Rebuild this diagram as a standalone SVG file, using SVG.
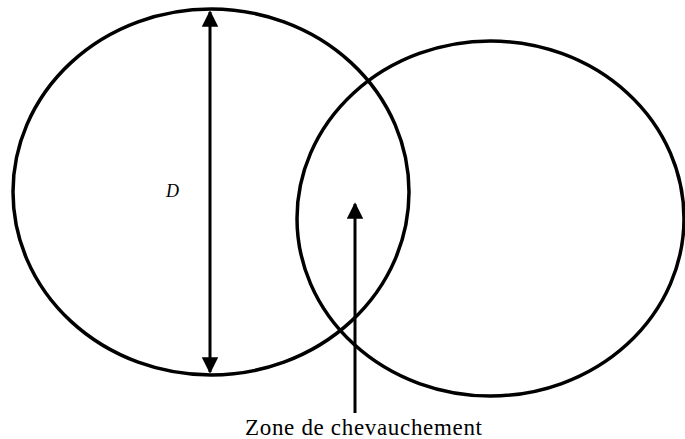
<svg xmlns="http://www.w3.org/2000/svg" width="685" height="439" viewBox="0 0 685 439">
<defs>
<style>
.c{fill:none;stroke:#000;stroke-width:3.5}
.l{stroke:#000;stroke-width:3;fill:none}
</style>
<marker id="ah" viewBox="0 0 10 10" refX="9" refY="5" markerWidth="6" markerHeight="5.5" markerUnits="strokeWidth" orient="auto-start-reverse">
<path d="M0,0 L10,5 L0,10 z" fill="#000"/>
</marker>
</defs>
<rect width="685" height="439" fill="#fff"/>
<g id="circle-left"><ellipse class="c" cx="211" cy="192" rx="198" ry="183"/></g>
<g id="circle-right"><ellipse class="c" cx="490.5" cy="218.5" rx="193.5" ry="177.5"/></g>
<g id="connectors">
<line class="l" x1="210" y1="12" x2="210" y2="372" marker-start="url(#ah)" marker-end="url(#ah)"/>
<line class="l" x1="355" y1="413" x2="355" y2="204" marker-end="url(#ah)"/>
</g>
<g id="labels">
<text x="166" y="197" font-family="'Liberation Serif', 'Times New Roman', serif" font-size="18" font-style="italic" fill="#000">D</text>
<text x="245" y="435" font-family="'Liberation Serif', 'Times New Roman', serif" font-size="23" textLength="237" lengthAdjust="spacing" fill="#000">Zone de chevauchement</text>
</g>
</svg>
